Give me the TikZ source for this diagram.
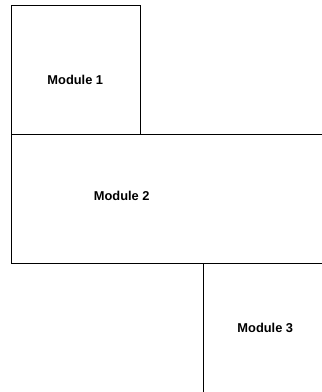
\documentclass[tikz,border=0pt]{standalone}
\usepackage{fontspec}
\setmainfont{Liberation Sans}
\usepackage{tikz}

\begin{document}
\begin{tikzpicture}[x=1bp,y=-1bp,line width=0.8bp,
    modlabel/.style={anchor=base,inner sep=0pt,font=\fontsize{12.9}{15}\selectfont\bfseries}]
          \useasboundingbox (0,0) rectangle (322,392);
          \clip (0,0) rectangle (322,392);
          \draw (11.5,5.5) rectangle (140,134);
          \draw (11.5,134) rectangle (340,263.5);
          \draw (203.5,263.5) rectangle (340,410);
          \node[modlabel] (m1) at (75.3,84) {Module 1};
          \node[modlabel] (m2) at (121.7,200) {Module 2};
          \node[modlabel] (m3) at (265.3,332.7) {Module 3};
        \end{tikzpicture}
\end{document}
